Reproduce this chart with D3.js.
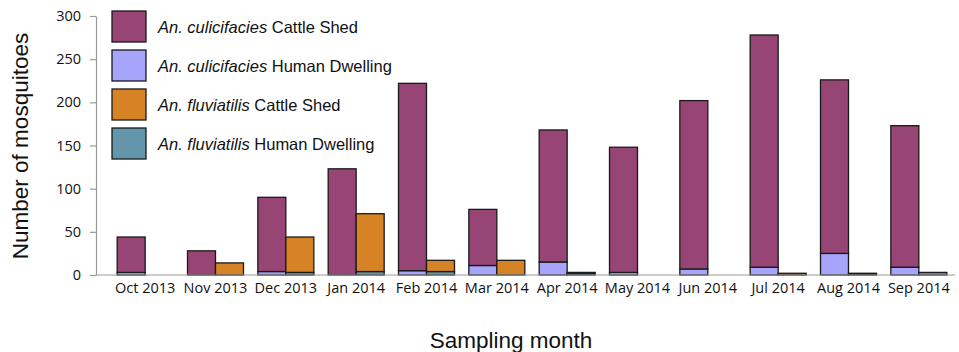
<!DOCTYPE html>
<html>
<head>
<meta charset="utf-8">
<script src="https://cdn.jsdelivr.net/npm/d3@7"></script>
<style>
  html, body { margin: 0; padding: 0; background: #fff; }
  svg { display: block; }
</style>
</head>
<body>
<svg id="chart" width="959" height="352"></svg>
<script>
// Monthly mosquito counts by species and collection site
const months = ["Oct 2013", "Nov 2013", "Dec 2013", "Jan 2014", "Feb 2014", "Mar 2014",
                "Apr 2014", "May 2014", "Jun 2014", "Jul 2014", "Aug 2014", "Sep 2014"];
const culicifaciesCattle = [41, 28, 86, 123, 217, 65, 153, 145, 195, 269, 201, 164];
const culicifaciesHuman  = [3, 0, 4, 0, 5, 11, 15, 3, 7, 9, 25, 9];
const fluviatilisCattle  = [0, 14, 41, 67, 13, 17, 1, 0, 0, 2, 1, 0];
const fluviatilisHuman   = [0, 0, 3, 4, 4, 0, 2, 0, 0, 0, 1, 3];
const yTicks = [0, 50, 100, 150, 200, 250, 300];

const legendItems = [
  { species: "An. culicifacies", site: "Cattle Shed",    color: "#974574" },
  { species: "An. culicifacies", site: "Human Dwelling", color: "#A7A4FB" },
  { species: "An. fluviatilis",  site: "Cattle Shed",    color: "#D68325" },
  { species: "An. fluviatilis",  site: "Human Dwelling", color: "#6396AA" }
];

const svg = d3.select("#chart");
const axisColor = "#9a9a9a";

const x = d3.scaleBand().domain(months).range([110, 954]).padding(0);
const y = d3.scaleLinear().domain([0, 300]).range([275, 16]);
const barW = 28;

// Bars: human dwelling at the base, cattle shed stacked on top
const rows = months.map((m, i) => ({
  month: m,
  cH: culicifaciesHuman[i], cC: culicifaciesCattle[i],
  fH: fluviatilisHuman[i],  fC: fluviatilisCattle[i]
}));

const segs = [];
rows.forEach(r => {
  const cx = x(r.month) + x.bandwidth() / 2;
  segs.push({ x0: cx - barW, lo: 0, hi: r.cH, color: legendItems[1].color });
  segs.push({ x0: cx - barW, lo: r.cH, hi: r.cH + r.cC, color: legendItems[0].color });
  segs.push({ x0: cx, lo: 0, hi: r.fH, color: legendItems[3].color });
  segs.push({ x0: cx, lo: r.fH, hi: r.fH + r.fC, color: legendItems[2].color });
});

svg.append("g").selectAll("rect")
  .data(segs.filter(s => s.hi > s.lo))
  .join("rect")
  .attr("x", d => d.x0)
  .attr("y", d => y(d.hi))
  .attr("width", barW)
  .attr("height", d => y(d.lo) - y(d.hi))
  .attr("fill", d => d.color)
  .attr("stroke", "#1a1a1a")
  .attr("stroke-width", 1.3);

// Y axis
const yAxis = svg.append("g")
  .attr("transform", "translate(96,0)")
  .call(d3.axisLeft(y).tickValues(yTicks).tickSize(6).tickPadding(9).tickSizeOuter(0));
yAxis.select(".domain").attr("stroke", axisColor).attr("stroke-width", 1.2);
yAxis.selectAll(".tick line").attr("stroke", axisColor).attr("stroke-width", 1.2);
yAxis.selectAll(".tick text")
  .attr("fill", "#111")
  .style("font-family", "'Open Sans', sans-serif")
  .style("font-size", "14.5px");

// X axis baseline and month labels
svg.append("line")
  .attr("x1", 96).attr("x2", 955)
  .attr("y1", y(0)).attr("y2", y(0))
  .attr("stroke", axisColor).attr("stroke-width", 1.2);

const xAxis = svg.append("g")
  .attr("transform", `translate(0,${y(0)})`)
  .call(d3.axisBottom(x).tickSize(0).tickPadding(8));
xAxis.select(".domain").remove();
xAxis.selectAll(".tick text")
  .attr("fill", "#111")
  .style("font-family", "'Open Sans', sans-serif")
  .style("font-size", "14.5px");

// Axis titles
svg.append("text")
  .attr("transform", "translate(28,146) rotate(-90)")
  .attr("text-anchor", "middle")
  .style("font-family", "'Liberation Sans', Arial, sans-serif")
  .style("font-size", "22.5px")
  .attr("fill", "#111")
  .text("Number of mosquitoes");

svg.append("text")
  .attr("x", 511).attr("y", 348)
  .attr("text-anchor", "middle")
  .style("font-family", "'Liberation Sans', Arial, sans-serif")
  .style("font-size", "22.5px")
  .attr("fill", "#111")
  .text("Sampling month");

// Legend
const legend = svg.append("g").attr("transform", "translate(112,11)");
const item = legend.selectAll("g")
  .data(legendItems)
  .join("g")
  .attr("transform", (d, i) => `translate(0,${i * 39})`);
item.append("rect")
  .attr("width", 34).attr("height", 31)
  .attr("fill", d => d.color)
  .attr("stroke", "#1a1a1a").attr("stroke-width", 1.3);
const label = item.append("text")
  .attr("x", 46).attr("y", 22)
  .style("font-family", "'Liberation Sans', Arial, sans-serif")
  .style("font-size", "16.5px")
  .attr("fill", "#111");
label.append("tspan").style("font-style", "italic").text(d => d.species);
label.append("tspan").text(d => " " + d.site);
</script>
</body>
</html>
